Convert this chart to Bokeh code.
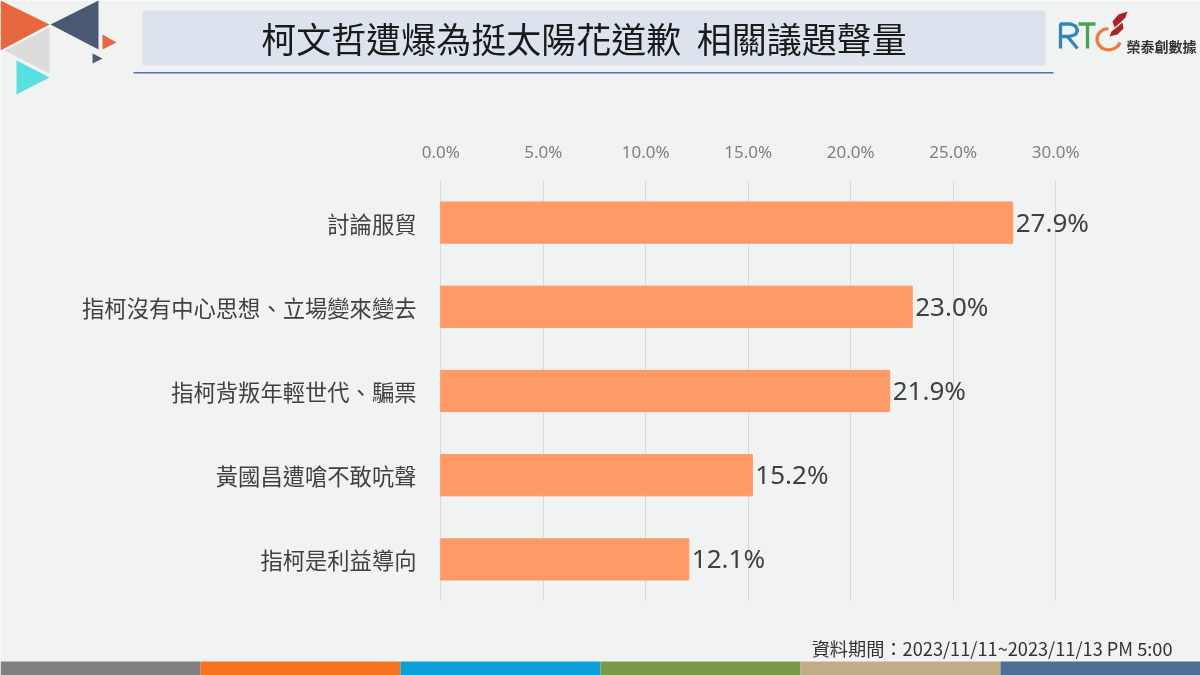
from bokeh.plotting import figure
from bokeh.embed import file_html
from bokeh.resources import INLINE
from bokeh.core.properties import value
from bokeh.layouts import column
from bokeh.models import ColumnDataSource, FactorRange, FixedTicker, LabelSet, PrintfTickFormatter

# nbsp, plain spaces collapse in the svg text
title_text = "柯文哲遭爆為挺太陽花道歉\u00a0\u00a0相關議題聲量"
footer_text = "資料期間：2023/11/11~2023/11/13 PM 5:00"
topics = ["討論服貿", "指柯沒有中心思想、立場變來變去", "指柯背叛年輕世代、騙票", "黃國昌遭嗆不敢吭聲", "指柯是利益導向"]
shares = [27.9, 23.0, 21.9, 15.2, 12.1]
share_ticks = [0, 5, 10, 15, 20, 25, 30]
band_colors = ["#7f7f7f", "#f47321", "#0a9fd8", "#7a9a47", "#c2ab87", "#4f6d94"]

CJK = "Noto Sans CJK TC"
BG = "#f1f3f3"

# slide furniture goes in its own figure, annotations get clipped to the frame
# the frame comes out 2px smaller than the figure, so the figure is 2px bigger than the slide
deco = figure(width=1202, height=677, output_backend="svg", toolbar_location=None,
              x_range=(0, 1200), y_range=(675, 0), min_border=0, frame_align=False)
deco.axis.visible = False
deco.grid.visible = False
deco.background_fill_color = BG
deco.border_fill_color = BG
deco.outline_line_color = None
deco.styles = {"position": "fixed", "left": "0", "top": "0"}


def tri(xs, ys, color):
    deco.patch(xs, ys, fill_color=color, line_color=None)


def box(left, right, top, bottom, color):
    deco.quad(left=left, right=right, top=top, bottom=bottom, fill_color=color, line_color=None)


def text(x, y, s, size="16px", color="#262626", align="left", style="normal"):
    deco.text([x], [y], text=[s], text_font=value(CJK), text_font_size=size, text_color=color,
              text_align=align, text_baseline="middle", text_font_style=style)


# corner triangles
tri([0, 49, 0], [0, 24, 50], "#e7683f")
tri([49, 49, 4], [27, 73, 50], "#dcdcdc")
tri([98, 98, 50], [0, 49, 24], "#4a5a72")
tri([102, 116, 102], [34, 42, 49], "#e7683f")
tri([92, 102, 92], [53, 58, 63], "#4a5a72")
tri([16, 49, 16], [60, 77, 94], "#58dfe0")

# header
box(142, 1045, 10, 65, "#dce3ed")
box(133, 1053, 71.5, 73, "#5470a4")
text(583.5, 37, title_text, size="35px", color="#1a1a1a", align="center")

# logo
deco.line([1060, 1060, 1070, 1075, 1077, 1075, 1069, 1060], [48, 23.5, 23.5, 25.5, 30, 34, 36, 36],
          line_color="#2f86bd", line_width=3.3)
deco.line([1067, 1077], [36, 48], line_color="#2f86bd", line_width=3.3)
deco.line([1078, 1095], [23.5, 23.5], line_color="#4aa354", line_width=3.3)
deco.line([1087, 1087], [23, 48], line_color="#4aa354", line_width=3.3)
deco.line([1108, 1103, 1099, 1097, 1096.5, 1098, 1102, 1108, 1114, 1118, 1119.5],
          [28, 29, 32, 35.5, 40, 44, 48, 49.5, 48, 45, 42],
          line_color="#ee7a3b", line_width=3.3)
tri([1127, 1118, 1112, 1114, 1120, 1125], [11, 14, 21, 27, 22, 17], "#a8262a")
tri([1109, 1117, 1123, 1122, 1116, 1111], [36, 34, 28, 22, 27, 31], "#a8262a")
text(1126, 45, "榮泰創數據", size="14px", color="#333333", style="bold")

# footer
text(1172, 647, footer_text, size="18.2px", color="#333333", align="right")
box(0, 1200, 660, 661, "#fafafa")
for i, c in enumerate(band_colors):
    box(i * 200, (i + 1) * 200, 661, 675, c)

# the chart, transparent, on top
p = figure(width=1200, height=675, output_backend="svg", toolbar_location=None,
           x_range=(-0.5, 33.5), y_range=FactorRange(factors=topics[::-1]),
           x_axis_location="above", min_border_left=430, min_border_right=73,
           min_border_top=180, min_border_bottom=74, frame_align=False)
p.styles = {"position": "fixed", "left": "0", "top": "0"}
p.background_fill_color = None
p.border_fill_color = None
p.outline_line_color = None

source = ColumnDataSource(dict(topic=topics, share=shares, label=["%.1f%%" % s for s in shares]))
p.hbar(y="topic", right="share", left=0, height=0.49, source=source, color="#ff9966")

p.add_layout(LabelSet(x="share", y="topic", text="label", source=source, x_offset=3, y_offset=1,
                      text_baseline="middle", text_font=value("Noto Sans"), text_font_size="26px",
                      text_color="#404040"))

p.xaxis.ticker = FixedTicker(ticks=share_ticks)
p.xaxis.formatter = PrintfTickFormatter(format="%.1f%%")
p.xaxis.axis_line_color = None
p.xaxis.major_tick_line_color = None
p.xaxis.minor_tick_line_color = None
p.xaxis.major_label_standoff = 12
p.xaxis.major_label_text_font = "Noto Sans"
p.xaxis.major_label_text_font_size = "17px"
p.xaxis.major_label_text_color = "#7f7f7f"

p.yaxis.axis_line_color = None
p.yaxis.major_tick_line_color = None
p.yaxis.major_label_standoff = 8
p.yaxis.major_label_text_font = CJK
p.yaxis.major_label_text_font_size = "22.3px"
p.yaxis.major_label_text_color = "#404040"

p.xgrid.grid_line_color = "#d9d9d9"
p.ygrid.grid_line_color = None

open("out.html", "w").write(file_html(column(deco, p), INLINE))
